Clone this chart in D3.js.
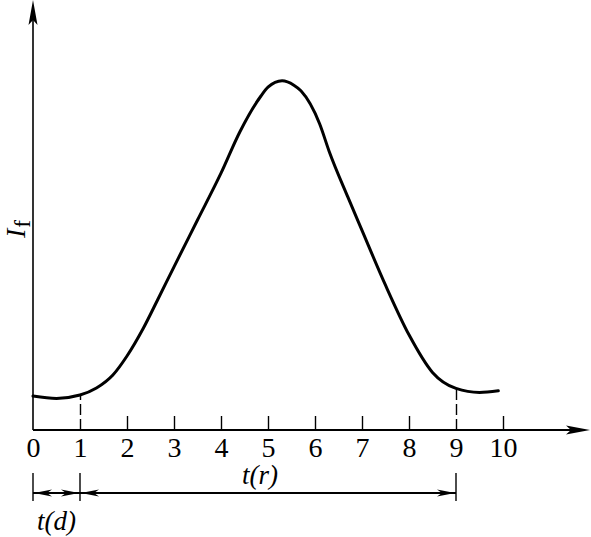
<!DOCTYPE html>
<html>
<head>
<meta charset="utf-8">
<script src="https://cdn.jsdelivr.net/npm/d3@7"></script>
<style>
  html, body { margin: 0; padding: 0; background: #fff; }
  svg { display: block; }
  text { font-family: "Liberation Serif", "Times New Roman", serif; fill: #000; }
</style>
</head>
<body>
<svg id="chart" width="591" height="537"></svg>
<script>
// ---- data ----
const tValues = [0, 0.5, 1, 1.35, 1.7, 2, 2.35, 2.65, 3, 3.5, 4, 4.4, 4.85, 5.0, 5.3, 5.55, 5.7, 6.1, 6.3, 6.7, 7, 7.5, 8, 8.5, 9, 9.5, 9.9];
const IValues = [0.85, 0.79, 0.875, 1.05, 1.375, 1.85, 2.55, 3.25, 4.08, 5.25, 6.42, 7.45, 8.35, 8.57, 8.73, 8.62, 8.48, 7.65, 6.97, 5.82, 4.99, 3.62, 2.38, 1.44, 1.04, 0.94, 0.98];
const tickLabels = ["0", "1", "2", "3", "4", "5", "6", "7", "8", "9", "10"];
const tickValues = [0, 1, 2, 3, 4, 5, 6, 7, 8, 9, 10];
const markerTicks = [1, 9];          // dashed extensions up to the curve
const intervalStarts = [0, 1];
const intervalEnds = [1, 9];
const intervalLabels = ["d", "r"];

// ---- scales ----
const x = d3.scaleLinear().domain([0, 10]).range([33, 503]);
const y = d3.scaleLinear().domain([0, 10]).range([430, 30]);

const svg = d3.select("#chart");
const x0 = x(0), yAxis = y(0);

// x axis with ticks pointing up
const axis = d3.axisBottom(x)
  .tickValues(tickValues)
  .tickFormat((d, i) => tickLabels[i])
  .tickSizeInner(-14)
  .tickSizeOuter(0)
  .tickPadding(7);

const gx = svg.append("g").attr("transform", `translate(0,${yAxis})`).call(axis)
  .attr("font-size", 28).attr("font-family", "Liberation Serif, serif");
gx.select(".domain").remove();
gx.selectAll(".tick text")
  .attr("font-size", 28)
  .attr("fill", "#000");
gx.selectAll(".tick line")
  .attr("stroke", "#000")
  .attr("stroke-width", 1.4)
  .each(function (d) {
    const sel = d3.select(this);
    if (d === 0) sel.remove();
    else if (markerTicks.includes(d)) {
      const iv = IValues[tValues.indexOf(d)];
      sel.attr("y2", y(iv) - yAxis).attr("stroke-dasharray", "11,4");
    }
  });

// axis lines
svg.append("line").attr("x1", x0).attr("x2", 572).attr("y1", yAxis).attr("y2", yAxis)
  .attr("stroke", "#000").attr("stroke-width", 1.8);
svg.append("line").attr("x1", x0).attr("x2", x0).attr("y1", yAxis).attr("y2", 20)
  .attr("stroke", "#000").attr("stroke-width", 1.6);

// arrowheads on axes
svg.append("path")
  .attr("d", `M590,${yAxis} L566,${yAxis - 4.5} L571,${yAxis} L566,${yAxis + 4.5} Z`)
  .attr("fill", "#000");
svg.append("path")
  .attr("d", `M${x0},0 L${x0 - 4.5},25 L${x0},20 L${x0 + 4.5},25 Z`)
  .attr("fill", "#000");

// curve
const line = d3.line()
  .x((d, i) => x(tValues[i]))
  .y((d, i) => y(IValues[i]))
  .curve(d3.curveMonotoneX);
svg.append("path")
  .attr("d", line(IValues))
  .attr("fill", "none")
  .attr("stroke", "#000")
  .attr("stroke-width", 3)
  .attr("stroke-linecap", "round")
  .attr("stroke-linejoin", "round");

// dimension lines
const dimY = 493;
const allBounds = Array.from(new Set(intervalStarts.concat(intervalEnds)));
svg.selectAll(".dimtick").data(allBounds).enter().append("line")
  .attr("x1", d => x(d)).attr("x2", d => x(d))
  .attr("y1", 473).attr("y2", 501)
  .attr("stroke", "#000").attr("stroke-width", 1.4);

function arrowHead(tipX, dir) {
  const L = 18, W = 3.5;
  return `M${tipX},${dimY} L${tipX + dir * L},${dimY - W} L${tipX + dir * (L - 5)},${dimY} L${tipX + dir * L},${dimY + W} Z`;
}
intervalStarts.forEach((s, i) => {
  const a = x(s), b = x(intervalEnds[i]);
  svg.append("line").attr("x1", a).attr("x2", b).attr("y1", dimY).attr("y2", dimY)
    .attr("stroke", "#000").attr("stroke-width", 1.8);
  svg.append("path").attr("d", arrowHead(a + 1, 1)).attr("fill", "#000");
  svg.append("path").attr("d", arrowHead(b - 1, -1)).attr("fill", "#000");
});

// interval labels
function tLabel(xc, yb, sub) {
  svg.append("text").attr("x", xc).attr("y", yb)
    .attr("text-anchor", "middle").attr("font-size", 27).attr("font-style", "italic")
    .text(`t(${sub})`);
}
tLabel((x(intervalStarts[0]) + x(intervalEnds[0])) / 2, 530, intervalLabels[0]);
tLabel((x(intervalStarts[1]) + x(intervalEnds[1])) / 2 - 8, 484, intervalLabels[1]);

// y label I_f
const yl = svg.append("text")
  .attr("transform", "translate(25,238) rotate(-90)")
  .attr("font-size", 28);
yl.append("tspan").attr("font-style", "italic").text("I");
yl.append("tspan").attr("font-size", 23).attr("dy", 5).attr("dx", 1).text("f");
</script>
</body>
</html>
